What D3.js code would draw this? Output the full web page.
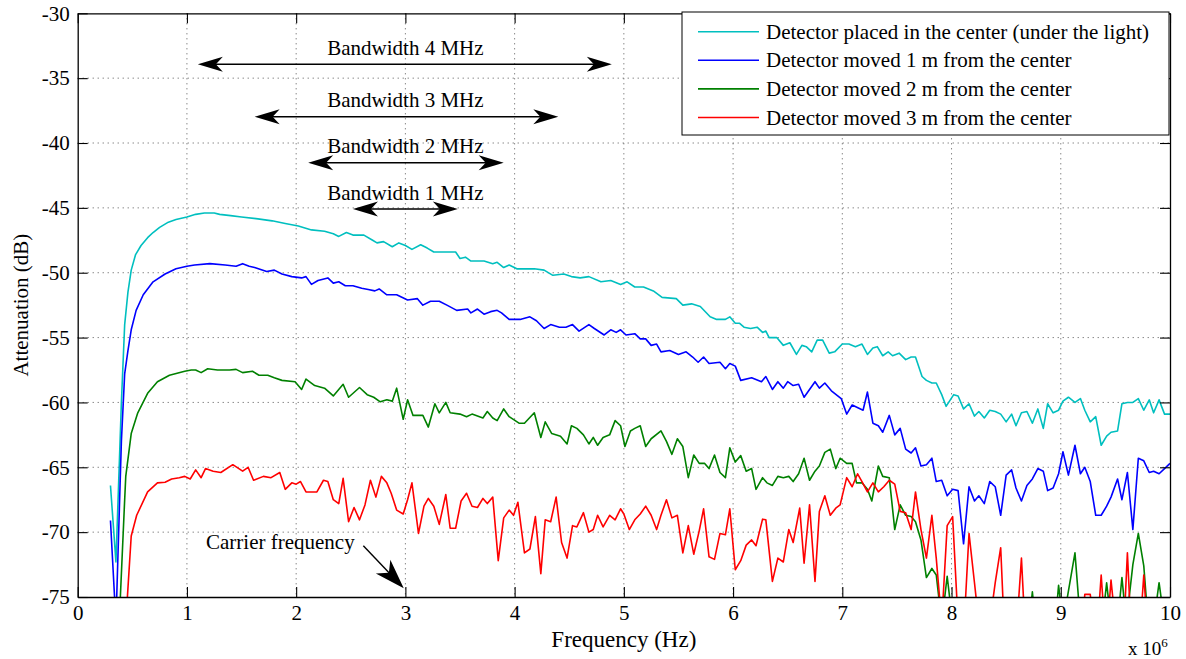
<!DOCTYPE html>
<html>
<head>
<meta charset="utf-8">
<script src="https://cdn.jsdelivr.net/npm/d3@7"></script>
<style>
  body { margin: 0; background: #fff; }
  text { font-family: "Liberation Serif", "Times New Roman", serif; fill: #000; }
</style>
</head>
<body>
<script>
var width = 1186, height = 659;
var margin = { top: 13.3, right: 16, bottom: 62, left: 77.7 };

// series: [frequency in MHz, attenuation in dB]
var centerSeries = [[0.30,-66.4],[0.35,-72.3],[0.40,-60.0],[0.43,-54.0],[0.46,-51.5],[0.49,-49.8],[0.53,-48.6],[0.58,-47.9],[0.64,-47.3],[0.69,-46.9],[0.75,-46.5],[0.83,-46.1],[0.90,-45.9],[1.00,-45.7],[1.08,-45.5],[1.16,-45.4],[1.25,-45.4],[1.30,-45.5],[1.40,-45.6],[1.50,-45.7],[1.65,-45.85],[1.78,-46.0],[1.90,-46.2],[2.02,-46.4],[2.14,-46.7],[2.26,-46.8],[2.34,-47.0],[2.39,-47.2],[2.46,-46.9],[2.52,-47.1],[2.62,-47.1],[2.70,-47.5],[2.74,-47.7],[2.80,-47.6],[2.88,-48.0],[2.94,-47.7],[3.00,-47.9],[3.06,-48.2],[3.14,-47.85],[3.20,-48.1],[3.26,-48.4],[3.35,-48.4],[3.46,-48.4],[3.50,-48.9],[3.55,-48.8],[3.60,-49.1],[3.72,-49.1],[3.80,-49.3],[3.84,-49.2],[3.90,-49.6],[3.95,-49.4],[4.02,-49.7],[4.10,-49.7],[4.18,-49.7],[4.27,-49.8],[4.35,-50.2],[4.45,-50.1],[4.52,-50.3],[4.60,-50.4],[4.68,-50.3],[4.79,-50.7],[4.88,-50.6],[4.97,-50.9],[5.03,-50.7],[5.10,-51.1],[5.18,-51.1],[5.27,-51.4],[5.35,-51.9],[5.48,-52.0],[5.54,-52.5],[5.62,-52.4],[5.70,-52.6],[5.79,-53.4],[5.85,-53.6],[5.93,-53.6],[5.97,-53.4],[6.02,-53.9],[6.06,-53.9],[6.10,-54.2],[6.16,-54.3],[6.22,-54.2],[6.27,-54.6],[6.30,-54.5],[6.33,-55.0],[6.40,-55.0],[6.46,-55.6],[6.52,-55.4],[6.58,-56.3],[6.63,-55.6],[6.67,-55.7],[6.72,-56.1],[6.77,-55.2],[6.82,-55.2],[6.88,-56.2],[6.93,-56.1],[7.00,-55.5],[7.06,-55.5],[7.12,-55.7],[7.18,-55.5],[7.23,-56.3],[7.28,-55.8],[7.32,-55.7],[7.37,-56.4],[7.42,-56.1],[7.46,-56.4],[7.52,-56.2],[7.58,-56.7],[7.63,-56.5],[7.67,-56.5],[7.73,-58.0],[7.77,-58.3],[7.82,-58.5],[7.86,-58.5],[7.91,-59.4],[7.95,-60.3],[8.02,-59.4],[8.06,-59.5],[8.11,-60.5],[8.16,-60.1],[8.21,-61.05],[8.25,-60.7],[8.30,-61.2],[8.35,-60.6],[8.40,-60.7],[8.45,-60.9],[8.50,-61.5],[8.55,-60.9],[8.59,-61.8],[8.64,-60.8],[8.69,-60.7],[8.74,-61.6],[8.79,-60.5],[8.84,-62.0],[8.88,-60.1],[8.93,-60.8],[8.98,-60.6],[9.02,-59.9],[9.07,-59.6],[9.13,-60.0],[9.18,-59.7],[9.22,-60.6],[9.27,-61.5],[9.32,-61.1],[9.37,-63.3],[9.42,-62.6],[9.46,-62.3],[9.52,-62.2],[9.56,-60.1],[9.61,-60.0],[9.66,-60.0],[9.71,-59.7],[9.76,-60.6],[9.81,-59.8],[9.85,-60.8],[9.90,-59.8],[9.95,-60.9],[10.0,-60.9]];

var oneMeterSeries = [[0.30,-69.1],[0.35,-77],[0.40,-63.0],[0.43,-57.8],[0.46,-56.0],[0.49,-54.4],[0.535,-52.9],[0.60,-51.7],[0.69,-50.7],[0.80,-50.1],[0.90,-49.7],[1.00,-49.5],[1.07,-49.4],[1.21,-49.3],[1.35,-49.4],[1.45,-49.5],[1.51,-49.3],[1.57,-49.5],[1.62,-49.6],[1.73,-49.9],[1.80,-49.8],[1.87,-50.1],[1.96,-50.3],[2.05,-50.4],[2.09,-50.3],[2.14,-50.9],[2.20,-50.6],[2.29,-50.4],[2.34,-50.8],[2.39,-50.7],[2.45,-51.0],[2.52,-51.0],[2.60,-51.2],[2.66,-51.3],[2.72,-51.4],[2.76,-51.25],[2.83,-51.7],[2.92,-51.7],[3.02,-52.1],[3.11,-52.0],[3.16,-52.5],[3.23,-52.2],[3.31,-52.2],[3.38,-52.5],[3.47,-52.9],[3.57,-52.8],[3.60,-53.1],[3.66,-52.8],[3.72,-53.2],[3.78,-53.0],[3.84,-52.9],[3.88,-53.1],[3.95,-53.6],[4.05,-53.6],[4.14,-53.4],[4.20,-53.7],[4.27,-54.3],[4.33,-54.0],[4.41,-54.2],[4.47,-54.2],[4.53,-54.0],[4.59,-54.5],[4.68,-54.0],[4.73,-54.3],[4.82,-54.8],[4.88,-54.4],[4.93,-54.6],[4.97,-54.4],[5.02,-54.8],[5.10,-54.7],[5.15,-55.1],[5.20,-55.1],[5.25,-55.6],[5.30,-55.5],[5.34,-56.1],[5.42,-56.0],[5.50,-56.3],[5.57,-56.1],[5.63,-56.5],[5.68,-56.9],[5.73,-56.5],[5.78,-57.0],[5.88,-56.9],[5.93,-57.4],[5.97,-57.0],[6.02,-57.2],[6.07,-58.3],[6.17,-58.1],[6.26,-58.4],[6.30,-58.0],[6.36,-59.0],[6.41,-58.4],[6.46,-58.9],[6.50,-58.4],[6.55,-58.7],[6.60,-58.6],[6.65,-59.6],[6.75,-58.4],[6.79,-58.9],[6.84,-58.5],[6.90,-59.1],[6.99,-59.7],[7.04,-60.9],[7.09,-60.2],[7.19,-60.6],[7.23,-59.2],[7.28,-61.6],[7.33,-61.8],[7.37,-62.3],[7.43,-61.0],[7.48,-62.5],[7.53,-62.0],[7.58,-63.6],[7.63,-63.9],[7.67,-63.5],[7.72,-64.9],[7.77,-64.8],[7.82,-64.3],[7.86,-66.1],[7.91,-66.0],[7.96,-67.2],[8.01,-66.7],[8.06,-66.8],[8.11,-70.9],[8.16,-66.5],[8.21,-67.6],[8.25,-67.2],[8.30,-67.8],[8.35,-66.1],[8.40,-66.5],[8.45,-68.7],[8.50,-65.6],[8.55,-65.2],[8.59,-66.6],[8.64,-67.6],[8.69,-66.4],[8.74,-65.9],[8.79,-65.1],[8.84,-65.3],[8.88,-66.8],[8.93,-66.6],[8.98,-65.5],[9.02,-63.8],[9.07,-65.6],[9.13,-63.3],[9.18,-65.5],[9.22,-65.0],[9.27,-66.1],[9.32,-68.7],[9.37,-68.7],[9.42,-68.0],[9.46,-67.3],[9.52,-65.9],[9.56,-67.5],[9.61,-65.4],[9.66,-69.8],[9.71,-64.3],[9.76,-64.5],[9.81,-65.4],[9.85,-65.3],[9.90,-65.5],[9.95,-65.1],[10.0,-64.7]];

var twoMeterSeries = [[0.38,-77],[0.43,-67.5],[0.44,-65.7],[0.49,-62.4],[0.55,-60.8],[0.64,-59.3],[0.73,-58.4],[0.84,-57.9],[0.98,-57.6],[1.04,-57.5],[1.08,-57.5],[1.13,-57.7],[1.19,-57.4],[1.28,-57.5],[1.39,-57.5],[1.45,-57.45],[1.51,-57.7],[1.60,-57.6],[1.66,-57.9],[1.74,-57.9],[1.80,-58.1],[1.87,-58.3],[1.99,-58.4],[2.05,-59.0],[2.09,-58.2],[2.17,-58.7],[2.26,-58.9],[2.34,-59.5],[2.43,-58.6],[2.48,-59.6],[2.58,-58.85],[2.65,-59.4],[2.71,-59.6],[2.77,-59.95],[2.83,-59.8],[2.88,-59.9],[2.92,-58.9],[2.98,-61.3],[3.02,-59.8],[3.07,-61.0],[3.16,-61.0],[3.21,-61.9],[3.27,-60.1],[3.31,-60.8],[3.37,-60.0],[3.41,-60.8],[3.50,-60.9],[3.56,-61.1],[3.61,-60.9],[3.71,-61.2],[3.75,-60.7],[3.80,-61.2],[3.84,-61.4],[3.90,-60.5],[3.95,-61.1],[4.04,-61.6],[4.09,-61.6],[4.18,-60.8],[4.24,-62.7],[4.28,-61.5],[4.34,-62.4],[4.42,-62.6],[4.48,-63.2],[4.52,-61.8],[4.57,-62.0],[4.63,-62.5],[4.68,-63.2],[4.72,-62.7],[4.76,-63.3],[4.81,-62.7],[4.87,-62.5],[4.92,-61.4],[4.97,-61.8],[5.01,-63.4],[5.06,-62.2],[5.10,-62.0],[5.15,-61.8],[5.20,-63.4],[5.25,-62.8],[5.34,-62.2],[5.39,-63.0],[5.44,-64.0],[5.49,-62.8],[5.54,-63.4],[5.59,-65.8],[5.64,-64.05],[5.69,-64.7],[5.74,-64.7],[5.78,-65.1],[5.83,-64.05],[5.88,-65.4],[5.93,-65.8],[5.97,-63.5],[6.02,-64.6],[6.07,-64.1],[6.12,-65.3],[6.17,-65.1],[6.21,-66.7],[6.27,-65.8],[6.31,-66.2],[6.36,-66.4],[6.41,-65.7],[6.46,-65.8],[6.51,-65.7],[6.55,-66.1],[6.60,-65.5],[6.65,-64.3],[6.70,-66.0],[6.75,-65.3],[6.79,-64.9],[6.84,-63.85],[6.89,-63.6],[6.94,-65.1],[6.98,-64.3],[7.04,-64.7],[7.09,-64.7],[7.13,-66.2],[7.18,-66.2],[7.23,-66.7],[7.27,-67.6],[7.33,-64.9],[7.37,-65.7],[7.43,-65.8],[7.48,-69.8],[7.53,-67.9],[7.58,-68.7],[7.63,-68.8],[7.67,-69.2],[7.72,-70.6],[7.77,-73.5],[7.82,-72.8],[7.86,-73.3],[7.91,-77],[7.96,-73.4],[8.01,-77],[8.06,-78],[8.70,-78],[8.74,-74.6],[8.78,-78],[8.95,-77],[8.98,-74.1],[9.02,-77],[9.13,-71.6],[9.18,-77],[9.38,-77],[9.42,-73.9],[9.46,-77],[9.52,-77],[9.56,-73.5],[9.60,-77],[9.66,-72.5],[9.71,-70.1],[9.76,-72.6],[9.80,-77],[9.85,-77],[9.90,-73.9],[9.95,-77],[10.0,-77]];

var threeMeterSeries = [[0.44,-77],[0.49,-70.3],[0.54,-68.7],[0.64,-66.9],[0.73,-66.2],[0.80,-66.15],[0.86,-65.9],[0.93,-65.8],[0.98,-65.7],[1.03,-65.9],[1.08,-65.2],[1.13,-65.8],[1.17,-65.1],[1.24,-65.3],[1.31,-65.4],[1.42,-64.8],[1.51,-65.3],[1.56,-65.0],[1.61,-66.0],[1.70,-65.7],[1.77,-65.8],[1.85,-65.4],[1.90,-66.7],[1.96,-66.2],[2.00,-66.3],[2.04,-66.1],[2.09,-66.9],[2.19,-66.9],[2.25,-66.0],[2.29,-66.1],[2.34,-67.5],[2.39,-67.8],[2.43,-65.85],[2.48,-69.2],[2.53,-68.1],[2.58,-69.05],[2.63,-67.9],[2.68,-66.0],[2.73,-67.3],[2.78,-65.7],[2.83,-66.2],[2.87,-67.0],[2.92,-68.3],[2.98,-68.6],[3.02,-67.5],[3.06,-66.2],[3.12,-70.1],[3.17,-68.0],[3.21,-67.4],[3.26,-68.0],[3.31,-69.4],[3.37,-67.1],[3.41,-69.7],[3.46,-69.7],[3.51,-67.6],[3.56,-67.0],[3.61,-68.0],[3.66,-68.1],[3.71,-67.4],[3.75,-67.8],[3.80,-67.3],[3.85,-72.2],[3.90,-68.9],[3.95,-68.3],[3.99,-68.7],[4.03,-67.7],[4.09,-71.6],[4.14,-71.3],[4.19,-68.8],[4.24,-73.2],[4.28,-69.05],[4.33,-69.2],[4.38,-67.3],[4.43,-70.8],[4.48,-72.0],[4.53,-69.5],[4.57,-69.6],[4.63,-68.5],[4.68,-70.0],[4.72,-69.8],[4.76,-68.7],[4.81,-69.6],[4.87,-68.7],[4.92,-69.05],[4.97,-68.2],[5.00,-68.6],[5.05,-69.8],[5.10,-69.05],[5.15,-68.6],[5.20,-68.0],[5.25,-68.7],[5.30,-69.8],[5.34,-68.7],[5.39,-67.5],[5.44,-68.9],[5.49,-68.7],[5.54,-71.6],[5.59,-69.5],[5.64,-71.7],[5.69,-69.9],[5.73,-68.2],[5.78,-71.9],[5.83,-72.1],[5.88,-70.1],[5.93,-70.2],[5.97,-68.2],[6.02,-72.9],[6.07,-72.2],[6.12,-71.0],[6.17,-70.6],[6.21,-71.05],[6.27,-69.0],[6.30,-69.05],[6.36,-73.8],[6.41,-72.0],[6.46,-72.3],[6.51,-69.8],[6.55,-70.8],[6.61,-68.15],[6.65,-72.4],[6.70,-67.9],[6.75,-73.8],[6.79,-68.4],[6.84,-67.2],[6.89,-68.7],[6.94,-68.15],[6.98,-67.9],[7.04,-65.8],[7.09,-66.5],[7.14,-65.5],[7.18,-66.1],[7.23,-66.9],[7.28,-66.2],[7.33,-66.9],[7.38,-66.5],[7.43,-66.0],[7.48,-66.3],[7.53,-68.4],[7.58,-68.5],[7.63,-69.8],[7.67,-66.9],[7.72,-69.8],[7.77,-72.0],[7.82,-68.7],[7.86,-72.0],[7.91,-77],[7.96,-69.5],[8.01,-68.8],[8.06,-77],[8.11,-78],[8.16,-70.1],[8.21,-73.9],[8.25,-77],[8.35,-77],[8.40,-73.9],[8.45,-71.2],[8.48,-77],[8.60,-77],[8.64,-72.0],[8.67,-77],[9.20,-77],[9.22,-74.8],[9.27,-74.8],[9.30,-77],[9.34,-77],[9.37,-73.3],[9.40,-77],[9.43,-77],[9.46,-73.7],[9.50,-77],[9.58,-77],[9.61,-71.6],[9.64,-77],[9.73,-77],[9.76,-73.3],[9.79,-77]];

var seriesNames = [
  "Detector placed in the center (under the light)",
  "Detector moved 1 m from the center",
  "Detector moved 2 m from the center",
  "Detector moved 3 m from the center"
];
var seriesColors = ["#00bfbf", "#0000ff", "#008000", "#ff0000"];
var allSeries = [centerSeries, oneMeterSeries, twoMeterSeries, threeMeterSeries];

var xTicks = [0, 1, 2, 3, 4, 5, 6, 7, 8, 9, 10];
var yTicks = [-75, -70, -65, -60, -55, -50, -45, -40, -35, -30];

// bandwidth arrows: label, start MHz, end MHz, level dB
var bandwidthLabels = ["Bandwidth 4 MHz", "Bandwidth 3 MHz", "Bandwidth 2 MHz", "Bandwidth 1 MHz"];
var bandwidthStart = [1.10, 1.62, 2.11, 2.52];
var bandwidthEnd = [4.89, 4.40, 3.90, 3.48];
var bandwidthLevel = [-33.93, -37.97, -41.52, -45.09];

var svg = d3.select("body")
    .append("svg")
    .attr("width", width)
    .attr("height", height)
    .style("background", "#fff");

var x = d3.scaleLinear().domain([0, 10]).range([margin.left, 1170]);
var y = d3.scaleLinear().domain([-75, -30]).range([597, margin.top]);

// dotted grid
var grid = svg.append("g");
grid.selectAll(".gx")
    .data(xTicks.slice(1, -1))
    .enter().append("line")
    .attr("x1", function (d) { return x(d); })
    .attr("x2", function (d) { return x(d); })
    .attr("y1", y(-30)).attr("y2", y(-75))
    .attr("stroke", "#555").attr("stroke-width", 1)
    .attr("stroke-dasharray", "1,4");
grid.selectAll(".gy")
    .data(yTicks.slice(1, -1))
    .enter().append("line")
    .attr("y1", function (d) { return y(d); })
    .attr("y2", function (d) { return y(d); })
    .attr("x1", x(0)).attr("x2", x(10))
    .attr("stroke", "#555").attr("stroke-width", 1)
    .attr("stroke-dasharray", "1,4");

// clip for lines
svg.append("clipPath").attr("id", "plotclip")
    .append("rect")
    .attr("x", x(0)).attr("y", y(-30))
    .attr("width", x(10) - x(0)).attr("height", y(-75) - y(-30));

var line = d3.line()
    .x(function (d) { return x(d[0]); })
    .y(function (d) { return y(d[1]); });

svg.append("g").attr("clip-path", "url(#plotclip)")
    .selectAll("path")
    .data(allSeries)
    .enter().append("path")
    .attr("d", line)
    .attr("fill", "none")
    .attr("stroke", function (d, i) { return seriesColors[i]; })
    .attr("stroke-width", 1.6)
    .attr("stroke-linejoin", "round");

// axes (ticks inward, box on)
var fmt = function (d) { return String(d); };
var axBottom = svg.append("g")
    .attr("transform", "translate(0," + y(-75) + ")")
    .call(d3.axisBottom(x).tickValues(xTicks).tickFormat(fmt).tickSizeInner(-10).tickSizeOuter(0).tickPadding(8));
var axTop = svg.append("g")
    .attr("transform", "translate(0," + y(-30) + ")")
    .call(d3.axisTop(x).tickValues(xTicks).tickFormat("").tickSizeInner(-10).tickSizeOuter(0));
var axLeft = svg.append("g")
    .attr("transform", "translate(" + x(0) + ",0)")
    .call(d3.axisLeft(y).tickValues(yTicks).tickFormat(fmt).tickSizeInner(-10).tickSizeOuter(0).tickPadding(8));
var axRight = svg.append("g")
    .attr("transform", "translate(" + x(10) + ",0)")
    .call(d3.axisRight(y).tickValues(yTicks).tickFormat("").tickSizeInner(-10).tickSizeOuter(0));

[axBottom, axTop, axLeft, axRight].forEach(function (ax) {
  ax.select(".domain").attr("stroke", "#000").attr("stroke-width", 1.3);
  ax.selectAll(".tick line").attr("stroke", "#000").attr("stroke-width", 1.1);
  ax.selectAll("text").attr("font-size", 21)
    .style("font-family", "'Liberation Serif', 'Times New Roman', serif").attr("fill", "#000");
});

// axis labels
svg.append("text")
    .attr("x", x(5)).attr("y", 647)
    .attr("text-anchor", "middle")
    .attr("font-size", 23)
    .text("Frequency (Hz)");

var expLabel = svg.append("text")
    .attr("x", 1128).attr("y", 655)
    .attr("font-size", 19);
expLabel.append("tspan").text("x 10");
expLabel.append("tspan").attr("dy", -8).attr("font-size", 13).text("6");

svg.append("text")
    .attr("transform", "translate(28," + y(-52.5) + ") rotate(-90)")
    .attr("text-anchor", "middle")
    .attr("font-size", 21)
    .text("Attenuation (dB)");

// arrowheads in concave style
function arrowHead(g, tipX, tipY, angle, len, half) {
  var notch = len * 0.72;
  g.append("path")
    .attr("d", "M0,0 L" + (-len) + "," + half + " L" + (-notch) + ",0 L" + (-len) + "," + (-half) + " Z")
    .attr("transform", "translate(" + tipX + "," + tipY + ") rotate(" + angle + ")")
    .attr("fill", "#000");
}

var notes = svg.append("g");
bandwidthLabels.forEach(function (lbl, i) {
  var x1 = x(bandwidthStart[i]), x2 = x(bandwidthEnd[i]), yy = y(bandwidthLevel[i]);
  notes.append("line")
    .attr("x1", x1 + 15).attr("x2", x2 - 15)
    .attr("y1", yy).attr("y2", yy)
    .attr("stroke", "#000").attr("stroke-width", 1.4);
  arrowHead(notes, x2, yy, 0, 25, 7.5);
  arrowHead(notes, x1, yy, 180, 25, 7.5);
  notes.append("text")
    .attr("x", x(3)).attr("y", yy - 9.5)
    .attr("text-anchor", "middle")
    .attr("font-size", 21)
    .text(lbl);
});

// carrier frequency annotation
var carrierFrom = [2.615, -71.05];
var carrierTo = [2.985, -74.33];
var cx1 = x(carrierFrom[0]), cy1 = y(carrierFrom[1]);
var cx2 = x(carrierTo[0]), cy2 = y(carrierTo[1]);
var ang = Math.atan2(cy2 - cy1, cx2 - cx1) * 180 / Math.PI;
notes.append("line")
    .attr("x1", cx1).attr("y1", cy1)
    .attr("x2", cx2 - 20 * Math.cos(ang * Math.PI / 180))
    .attr("y2", cy2 - 20 * Math.sin(ang * Math.PI / 180))
    .attr("stroke", "#000").attr("stroke-width", 1.4);
arrowHead(notes, cx2, cy2, ang, 30, 10);
notes.append("text")
    .attr("x", 206).attr("y", 549)
    .attr("font-size", 21)
    .text("Carrier frequency");

// legend
var legend = svg.append("g");
legend.append("rect")
    .attr("x", 682).attr("y", 12)
    .attr("width", 487).attr("height", 123)
    .attr("fill", "#fff").attr("stroke", "#000").attr("stroke-width", 1);
seriesNames.forEach(function (name, i) {
  var ly = 31.7 + i * 28.6;
  legend.append("line")
    .attr("x1", 698).attr("x2", 759)
    .attr("y1", ly).attr("y2", ly)
    .attr("stroke", seriesColors[i]).attr("stroke-width", 1.6);
  legend.append("text")
    .attr("x", 766).attr("y", ly + 7)
    .attr("font-size", 21)
    .text(name);
});
</script>
</body>
</html>
